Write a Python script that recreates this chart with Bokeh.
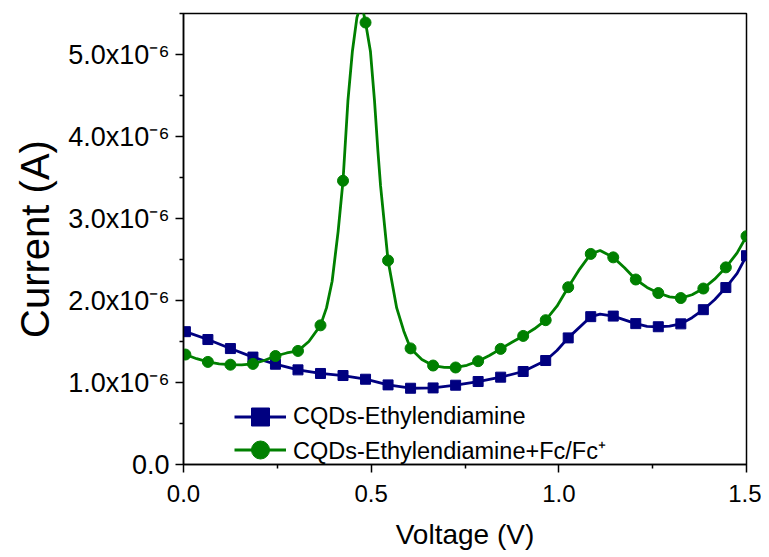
from bokeh.plotting import figure
from bokeh.models import FixedTicker, Legend, LegendItem
from bokeh.embed import file_html
from bokeh.resources import INLINE

# Marker positions (V) and values (x10^-6 A)
marker_v = [0.005, 0.065, 0.125, 0.185, 0.245, 0.305, 0.365, 0.425, 0.485, 0.545,
            0.605, 0.665, 0.725, 0.785, 0.845, 0.905, 0.965, 1.025, 1.085, 1.145,
            1.205, 1.265, 1.325, 1.385, 1.445, 1.5]
blue_marker_i = [1.62, 1.524, 1.414, 1.31, 1.223, 1.154, 1.110, 1.085, 1.040, 0.971,
                 0.930, 0.934, 0.967, 1.012, 1.065, 1.134, 1.268, 1.544, 1.803, 1.81,
                 1.718, 1.68, 1.715, 1.888, 2.158, 2.546]
green_marker_i = [1.341, 1.251, 1.217, 1.227, 1.323, 1.385, 1.697, 3.46, 5.39, 2.488,
                  1.416, 1.207, 1.183, 1.260, 1.410, 1.568, 1.760, 2.162, 2.568, 2.526,
                  2.256, 2.091, 2.03, 2.146, 2.404, 2.784]

# Curves (denser readings)
blue_line_v = [0.0, 0.005, 0.065, 0.125, 0.185, 0.245, 0.305, 0.365, 0.425, 0.485, 0.545,
               0.605, 0.665, 0.725, 0.785, 0.845, 0.905, 0.965, 0.995, 1.025, 1.085, 1.11,
               1.145, 1.205, 1.235, 1.265, 1.295, 1.325, 1.355, 1.385, 1.415, 1.445, 1.475, 1.5]
blue_line_i = [1.63, 1.62, 1.524, 1.414, 1.31, 1.223, 1.154, 1.110, 1.085, 1.040, 0.971,
               0.930, 0.934, 0.967, 1.012, 1.065, 1.134, 1.268, 1.39, 1.544, 1.803, 1.835,
               1.81, 1.718, 1.685, 1.68, 1.688, 1.715, 1.79, 1.888, 2.01, 2.158, 2.33, 2.546]
green_line_v = [0.0, 0.005, 0.035, 0.065, 0.095, 0.125, 0.155, 0.185, 0.215, 0.245, 0.275,
                0.305, 0.334, 0.365, 0.381, 0.396, 0.412, 0.425, 0.438, 0.45, 0.462, 0.472,
                0.48, 0.485, 0.498, 0.509, 0.518, 0.525, 0.545, 0.568, 0.587, 0.605, 0.635,
                0.665, 0.695, 0.725, 0.755, 0.785, 0.815, 0.845, 0.875, 0.905, 0.935, 0.965,
                0.995, 1.025, 1.055, 1.085, 1.11, 1.145, 1.175, 1.205, 1.235, 1.265, 1.295,
                1.325, 1.355, 1.385, 1.415, 1.445, 1.475, 1.5]
green_line_i = [1.35, 1.341, 1.29, 1.251, 1.228, 1.217, 1.216, 1.227, 1.268, 1.323, 1.36,
                1.385, 1.50, 1.697, 1.91, 2.235, 2.843, 3.46, 4.43, 5.04, 5.45, 5.60,
                5.50, 5.39, 5.04, 4.43, 3.82, 3.40, 2.488, 1.91, 1.626, 1.416, 1.28,
                1.207, 1.185, 1.183, 1.21, 1.26, 1.33, 1.41, 1.49, 1.568, 1.655, 1.76,
                1.93, 2.162, 2.38, 2.568, 2.61, 2.526, 2.40, 2.256, 2.16, 2.091, 2.044,
                2.03, 2.07, 2.146, 2.26, 2.404, 2.58, 2.784]

x_ticks = [0, 0.5, 1.0, 1.5]
x_tick_labels = ["0.0", "0.5", "1.0", "1.5"]
x_minor = [0.25, 0.75, 1.25]
y_ticks = [0, 1, 2, 3, 4, 5]
y_tick_labels = ["0.0", "1.0x10\u207b\u2076", "2.0x10\u207b\u2076", "3.0x10\u207b\u2076",
                 "4.0x10\u207b\u2076", "5.0x10\u207b\u2076"]
y_minor = [0.5, 1.5, 2.5, 3.5, 4.5, 5.5]

labels = ["CQDs-Ethylendiamine", "CQDs-Ethylendiamine+Fc/Fc\u207a"]
BLUE = "#000080"
GREEN = "#008000"
FONT = "Liberation Sans"

p = figure(width=761, height=552, x_range=(0, 1.5), y_range=(0, 5.5),
           output_backend="svg", toolbar_location=None,
           min_border_left=183, min_border_right=15, min_border_top=13, min_border_bottom=88)
p.grid.visible = False
p.outline_line_color = "black"
p.outline_line_width = 1.5
p.background_fill_color = "white"

p.xaxis.ticker = FixedTicker(ticks=x_ticks, minor_ticks=x_minor)
p.xaxis.major_label_overrides = dict(zip(x_ticks, x_tick_labels))
p.yaxis.ticker = FixedTicker(ticks=y_ticks, minor_ticks=y_minor)
p.yaxis.major_label_overrides = dict(zip(y_ticks, y_tick_labels))

for ax in (p.xaxis[0], p.yaxis[0]):
    ax.axis_line_color = "black"
    ax.axis_line_width = 1.5
    ax.major_tick_line_color = "black"
    ax.major_tick_line_width = 1.5
    ax.minor_tick_line_color = "black"
    ax.minor_tick_line_width = 1.5
    ax.major_tick_in = 0
    ax.major_tick_out = 8
    ax.minor_tick_in = 0
    ax.minor_tick_out = 4
    ax.major_label_text_font = FONT
    ax.major_label_text_color = "black"
    ax.axis_label_text_font = FONT
    ax.axis_label_text_font_style = "normal"
    ax.axis_label_text_color = "black"

p.xaxis.axis_label = "Voltage (V)"
p.yaxis.axis_label = "Current (A)"
p.xaxis.major_label_text_font_size = "24px"
p.yaxis.major_label_text_font_size = "27px"
p.xaxis.axis_label_text_font_size = "28px"
p.yaxis.axis_label_text_font_size = "40px"
p.xaxis.major_label_standoff = 12
p.yaxis.major_label_standoff = 6
p.xaxis.axis_label_standoff = 14
p.yaxis.axis_label_standoff = 8

bl = p.line(blue_line_v, blue_line_i, line_color=BLUE, line_width=2.8)
bm = p.scatter(marker_v, blue_marker_i, marker="square", size=10, fill_color=BLUE, line_color=BLUE)
gl = p.line(green_line_v, green_line_i, line_color=GREEN, line_width=2.8)
gm = p.scatter(marker_v, green_marker_i, marker="circle", size=11, fill_color=GREEN, line_color=GREEN)

common = dict(glyph_width=52, glyph_height=45, label_height=45, label_standoff=7,
              padding=0, margin=0, label_text_font=FONT, label_text_font_size="23.5px",
              label_text_color="black", background_fill_alpha=0, border_line_alpha=0)
legend1 = Legend(items=[LegendItem(label=labels[0], renderers=[bl, bm])],
                 location=(51, 25), **common)
legend2 = Legend(items=[LegendItem(label=labels[1], renderers=[gl, gm])],
                 location=(51, -8), **common)
p.add_layout(legend1)
p.add_layout(legend2)

open("out.html", "w").write(file_html(p, INLINE))
